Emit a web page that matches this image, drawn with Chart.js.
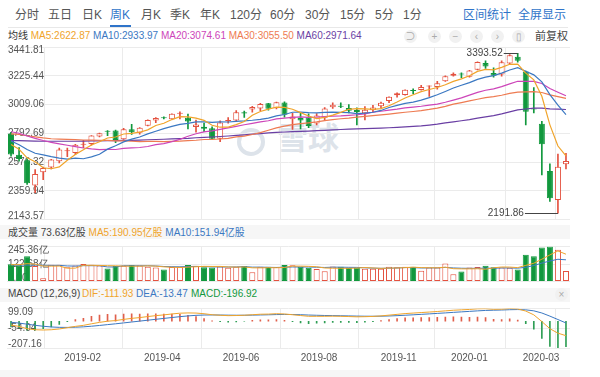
<!DOCTYPE html>
<html>
<head>
<meta charset="utf-8">
<script src="https://cdn.jsdelivr.net/npm/chart.js@4.4.1/dist/chart.umd.min.js"></script>
<style>
  body { margin: 0; background: #fff; font-family: "Liberation Sans", Arial, "Noto Sans CJK SC", sans-serif; }
  #wrap { position: relative; width: 600px; height: 377px; overflow: hidden; }
  .t { position: absolute; white-space: nowrap; line-height: 14px; }
  .tab { top: 8px; font-size: 12px; color: #555; }
  .row { font-size: 10px; }
  canvas { position: absolute; left: 0; }
  .band { position: absolute; left: 0; width: 570px; background: #f6f6f6; }
  .ico { position: absolute; top: 30px; width: 13px; height: 13px; border-radius: 50%; background: #f1f1f1; color: #aaa; font-size: 10px; line-height: 13px; text-align: center; }
</style>
</head>
<body>
<div id="wrap">
  <div class="band" style="top:225px;height:14px"></div>
  <div class="band" style="top:288px;height:14px"></div>
  <div class="band" style="top:370px;height:7px"></div>
  <div style="position:absolute;left:8px;top:27px;width:560px;border-top:1px solid #e8e8e8"></div>

  <span class="t tab" style="left:15px">分时</span>
  <span class="t tab" style="left:48px">五日</span>
  <span class="t tab" style="left:82px">日K</span>
  <span class="t tab" style="left:110px;color:#2f74c9">周K</span>
  <div style="position:absolute;left:110px;top:25px;width:21px;height:2px;background:#2f74c9"></div>
  <span class="t tab" style="left:141px">月K</span>
  <span class="t tab" style="left:170px">季K</span>
  <span class="t tab" style="left:200px">年K</span>
  <span class="t tab" style="left:230px">120分</span>
  <span class="t tab" style="left:270px">60分</span>
  <span class="t tab" style="left:305px">30分</span>
  <span class="t tab" style="left:340px">15分</span>
  <span class="t tab" style="left:375px">5分</span>
  <span class="t tab" style="left:403px">1分</span>
  <span class="t tab" style="left:463px;color:#2f74c9">区间统计</span>
  <span class="t tab" style="left:518px;color:#2f74c9">全屏显示</span>

  <div class="t row" style="left:8px;top:29px;color:#333">均线 <span style="color:#f0a42b">MA5:2622.87</span> <span style="color:#3b78c2">MA10:2933.97</span> <span style="color:#cd45b9">MA20:3074.61</span> <span style="color:#ee7b52">MA30:3055.50</span> <span style="color:#6a3fa4">MA60:2971.64</span></div>
  <span class="ico" style="left:404px">⊃</span>
  <span class="ico" style="left:428px">+</span>
  <span class="ico" style="left:449px">−</span>
  <span class="ico" style="left:470px">‹</span>
  <span class="ico" style="left:491px">›</span>
  <span class="ico" style="left:512px">▯</span>
  <span class="t" style="left:535px;top:29px;color:#444;font-size:11px">前复权</span>

  <div style="position:absolute;left:237px;top:128px;width:20px;height:20px;border:4px solid #dde3ea;border-radius:50%"></div>
  <span class="t" style="left:277px;top:123px;font-size:31px;line-height:32px;font-weight:bold;color:#dde3ea">雪球</span>

  <div class="t row" style="left:8px;top:226px;color:#444">成交量 73.63亿股 <span style="color:#f0a42b">MA5:190.95亿股</span> <span style="color:#3b78c2">MA10:151.94亿股</span></div>

  <span class="t row" style="left:8px;top:287px;color:#444">MACD (12,26,9)</span>
  <span class="t row" style="left:82px;top:287px;color:#f0a42b">DIF:-111.93</span>
  <span class="t row" style="left:136px;top:287px;color:#3b78c2">DEA:-13.47</span>
  <span class="t row" style="left:191px;top:287px;color:#11983d">MACD:-196.92</span>
  <span class="ico" style="left:555px;top:288px">×</span>

  <canvas id="kline" width="600" height="190" style="top:38px"></canvas>
  <canvas id="vol" width="600" height="52" style="top:238px"></canvas>
  <canvas id="macd" width="600" height="72" style="top:300px"></canvas>
</div>
<script>
// S&P 500 weekly, 2018-12-03 .. 2020-03-30
var open = [2790.50,2630.86,2590.75,2400.56,2498.94,2535.61,2582.10,2657.88,2644.97,2706.49,
  2712.40,2769.28,2804.35,2814.37,2747.61,2822.61,2796.01,2848.63,2888.32,2908.32,
  2898.78,2940.58,2908.89,2840.19,2841.94,2830.03,2751.53,2885.83,2889.75,2951.42,
  2971.41,2979.77,3017.80,2981.93,3024.47,2898.07,2907.07,2913.48,2866.70,2909.01,
  2988.43,2996.41,2983.50,2967.07,2944.23,2965.81,2996.48,3035.39,3078.96,3080.33,
  3117.91,3117.44,3143.85,3141.86,3183.63,3226.05,3240.09,3217.55,3271.13,3321.03,
  3247.16,3235.66,3318.28,3369.04,3257.61,2974.28,2863.89,2508.59,2290.71,2558.98];
var high = [2800.18,2685.44,2601.13,2520.27,2538.07,2597.82,2681.83,2681.06,2708.95,2738.98,
  2775.66,2794.20,2813.49,2816.88,2830.73,2860.31,2836.03,2893.42,2910.53,2916.06,
  2939.88,2954.13,2937.32,2892.15,2868.88,2840.51,2885.73,2910.61,2964.15,2959.00,
  2995.84,3017.80,3017.80,3027.98,3029.16,2943.31,2943.31,2939.08,2940.43,2985.86,
  3021.99,3022.05,3007.98,2983.85,2993.28,3002.69,3027.39,3066.95,3097.77,3120.46,
  3127.64,3154.26,3150.60,3182.68,3225.65,3247.93,3247.93,3267.07,3329.88,3337.77,
  3285.91,3337.58,3385.09,3393.52,3259.81,3136.72,2882.59,2562.98,2637.01,2641.39];
var low = [2621.53,2583.23,2408.55,2346.58,2443.96,2524.56,2570.41,2617.27,2631.06,2684.38,
  2704.10,2764.55,2775.13,2722.27,2746.05,2785.02,2785.68,2848.63,2873.33,2900.71,
  2898.78,2900.50,2825.39,2801.43,2805.49,2750.52,2728.81,2868.97,2887.30,2912.66,
  2952.22,2963.44,2966.39,2976.22,2914.11,2822.12,2825.71,2834.97,2856.00,2891.85,
  2979.39,2985.49,2945.53,2855.94,2892.55,2952.93,2981.18,3023.19,3065.34,3078.68,
  3091.41,3117.44,3070.33,3124.95,3183.63,3223.31,3212.03,3214.64,3270.30,3281.53,
  3214.68,3223.13,3315.19,3328.45,2855.84,2945.19,2478.86,2280.52,2191.86,2524.40];
var close = [2633.08,2599.95,2416.62,2485.74,2531.94,2596.26,2670.71,2664.76,2706.53,2707.88,
  2775.60,2792.67,2803.69,2743.07,2822.48,2800.71,2834.40,2892.74,2907.41,2905.03,
  2939.88,2945.64,2881.40,2859.53,2826.06,2752.06,2873.34,2886.98,2950.46,2941.76,
  2990.41,3013.77,2976.61,3025.86,2932.05,2918.65,2888.68,2847.11,2926.46,2978.71,
  3007.39,2992.07,2961.79,2952.01,2970.27,2986.20,3022.55,3066.91,3093.08,3120.46,
  3110.29,3140.98,3145.91,3168.80,3221.22,3240.02,3234.85,3265.35,3329.62,3295.47,
  3225.52,3327.71,3380.16,3337.75,2954.22,2972.37,2711.02,2304.92,2541.47,2584.59];

var ma5 = [2708.6,2672.4,2608.5,2579.1,2533.5,2526.1,2540.3,2589.9,2634.0,2669.2,
  2705.1,2729.5,2757.3,2764.6,2787.5,2792.5,2800.9,2818.7,2851.5,2868.1,
  2895.9,2918.1,2915.9,2906.3,2890.5,2852.9,2838.5,2839.6,2857.8,2880.9,
  2928.6,2956.7,2974.6,2989.7,2987.7,2973.4,2948.4,2922.5,2902.6,2911.9,
  2929.7,2950.3,2973.3,2978.4,2976.7,2972.5,2978.6,2999.6,3027.8,3057.8,
  3082.7,3106.3,3122.1,3137.3,3157.4,3183.4,3202.2,3226.0,3258.2,3273.1,
  3270.2,3288.7,3311.7,3313.3,3245.1,3194.4,3071.1,2856.1,2696.8,2622.87];
var ma10 = [2734.5,2706.0,2671.0,2642.7,2630.0,2617.4,2606.4,2599.2,2606.6,2601.4,
  2615.6,2634.9,2673.6,2699.3,2728.4,2748.8,2765.2,2788.0,2808.1,2827.8,
  2844.2,2859.5,2867.3,2878.9,2879.3,2874.4,2878.3,2877.8,2882.1,2885.7,
  2890.8,2897.6,2907.1,2923.8,2934.3,2951.0,2952.6,2948.6,2946.2,2949.8,
  2951.6,2949.4,2947.9,2940.5,2944.3,2951.1,2964.5,2986.5,3003.1,3017.3,
  3027.6,3042.5,3060.9,3082.6,3107.6,3133.1,3154.3,3174.1,3197.8,3215.3,
  3226.8,3245.5,3268.9,3285.8,3259.1,3232.3,3179.9,3083.9,3005.1,2933.97];
var ma20 = [2804.2,2793.3,2772.2,2754.7,2738.8,2724.9,2713.4,2703.0,2693.1,2682.0,
  2675.1,2670.5,2672.3,2671.0,2679.2,2683.1,2685.8,2693.6,2707.4,2714.6,
  2729.9,2747.2,2770.5,2789.1,2803.9,2811.6,2821.8,2832.9,2845.1,2856.8,
  2867.5,2878.6,2887.2,2901.4,2906.8,2912.7,2915.5,2913.2,2914.2,2917.8,
  2921.2,2923.5,2927.5,2932.2,2939.3,2951.1,2958.6,2967.6,2974.7,2983.6,
  2989.6,2996.0,3004.4,3011.6,3026.0,3042.1,3059.4,3080.3,3100.5,3116.3,
  3127.2,3144.0,3164.9,3184.2,3183.4,3182.7,3167.1,3129.0,3101.5,3074.61];
var ma30 = [2788.3,2784.5,2774.4,2766.0,2757.8,2751.7,2748.9,2747.1,2745.4,2742.2,
  2741.3,2740.5,2739.3,2736.2,2735.3,2732.9,2730.7,2731.3,2731.4,2730.6,
  2731.4,2733.5,2737.3,2740.3,2745.9,2746.9,2750.0,2755.0,2765.6,2771.6,
  2783.5,2797.3,2816.0,2834.0,2847.3,2858.1,2865.4,2871.5,2878.8,2887.8,
  2895.5,2902.2,2907.4,2914.4,2919.3,2925.5,2931.8,2937.6,2943.8,2950.9,
  2956.7,2963.2,2972.0,2982.3,2995.4,3011.7,3023.8,3036.4,3049.0,3060.8,
  3068.7,3079.1,3092.6,3103.0,3103.7,3105.5,3099.6,3081.5,3068.7,3055.50];
var ma60 = [2738,2737,2735,2734,2733,2733,2733,2733,2733,2734,
  2735,2736,2737,2738,2739,2740,2742,2744,2746,2748,
  2750.1,2752.8,2755.0,2759.4,2762.5,2765.0,2768.7,2772.2,2776.9,2781.5,
  2785.9,2790.9,2795.2,2800.0,2802.6,2804.9,2807.2,2809.3,2812.1,2815.0,
  2818.4,2821.4,2823.4,2825.3,2827.3,2829.2,2831.3,2834.5,2837.6,2840.8,
  2844.1,2848.4,2854.7,2861.3,2870.7,2879.3,2886.9,2895.7,2907.3,2916.2,
  2926.1,2938.2,2954.3,2968.5,2975.5,2981.8,2982.5,2976.5,2973.8,2971.64];

// 成交量 (亿股)
var volume = [121,114,176,108,24,117,117,100,112,122,
  117,112,92,108,110,116,112,103,98,85,
  102,104,116,110,100,98,106,96,104,108,
  66,104,103,102,116,114,104,96,88,72,
  106,103,94,97,90,90,90,104,100,104,
  104,76,98,98,126,52,70,98,102,110,
  100,98,96,84,186.65,176,238,245.36,221.76,73.63];
var volMa5 = [118,118,125,122,108.6,107.8,108.4,93.2,94,113.6,
  113.6,112.6,111,110.2,107.8,107.6,107.6,109.8,107.8,102.8,
  100,98.4,101,103.4,106.4,105.6,106,102,100.8,102.4,
  96,95.6,97,96.6,98.2,107.8,107.8,106.4,103.6,94.8,
  93.2,93,92.6,94.4,98,94.8,92.2,94.2,94.8,97.6,
  100.4,97.6,96.4,96,100.4,90,88.8,88.8,89.6,86.4,
  96,101.6,101.2,97.6,112.9,128.1,156.1,186,213.6,190.95];
var volMa10 = [116,115,115,115,114,113,113.2,109.1,108,111.1,
  110.7,110.5,102.1,102.1,110.7,110.6,110.1,110.4,109,105.3,
  103.8,103,105.4,105.6,104.6,102.8,102.2,101.5,102.1,104.4,
  100.8,100.8,99.5,98.7,100.3,101.9,101.7,101.7,100.1,98.6,
  100.5,100.4,99.5,99,96.4,94,92.6,93.4,94.6,97.8,
  97.6,94.9,95.3,95.4,99,95.2,93.2,92.6,92.8,93.4,
  93,95.2,95,93.6,99.7,112.1,128.9,143.6,155.6,151.94];

// MACD (12,26,9)
var dif = [-30,-40,-58,-66,-68,-66,-60,-50,-40,-32,
  -20,-9,0,5,14,22,28,36,43,49,
  56,62,64,63,58,50,46,43,44,46,
  50,54,55,58,56,50,44,38,38,38,
  39,38,36,34,35,37,41,47,53,59,
  63,67,71,75,80,85,88,91,96,97,
  92,93,98,95,78.6,49.2,-2.7,-57.95,-92.43,-111.93];
var dea = [-8,-14.4,-23.1,-31.7,-39,-44.4,-47.5,-48,-46.4,-43.5,
  -38.8,-32.8,-26.3,-20,-13.2,-6.2,0.7,7.8,14.8,21.7,
  28.5,35.2,41,45.4,47.9,48.3,47.9,46.9,46.3,46.3,
  47,48.4,49.7,51.4,52.3,51.8,50.3,47.8,45.9,44.3,
  43.3,42.2,41,39.6,38.7,38.4,38.9,40.5,43,46.2,
  49.6,53.1,56.7,60.4,64.3,68.4,72.3,76,80,83.4,
  85.1,86.7,89,90.2,87.9,80.2,63.6,39.3,12.9,-13.47];
var macdHist = [-44,-51.2,-69.8,-68.6,-58,-43.2,-25,-4,12.8,23,
  37.6,47.6,52.6,50,54.4,56.4,54.6,56.4,56.4,54.6,
  55,53.6,46,35.2,20.2,3.4,-3.8,-7.8,-4.6,-0.6,
  6,11.2,10.6,13.2,7.4,-3.6,-12.6,-19.6,-15.8,-12.6,
  -8.6,-8.4,-10,-11.2,-7.4,-2.8,4.2,13,20,25.6,
  26.8,27.8,28.6,29.2,31.4,33.2,31.4,30,32,27.2,
  13.8,12.6,18,9.6,-18.6,-62,-132.6,-194.5,-207.16,-196.92];

var priceTicks = [3441.81, 3225.44, 3009.06, 2792.69, 2576.32, 2359.94, 2143.57];
var volTicks = [245.36, 122.68, 0];
var macdTicks = [99.09, -54.04, -207.16];
var xTickPos = [8.9, 18.8, 28.6, 38.3, 48.2, 57, 65.9];
var xTickLabels = ['2019-02', '2019-04', '2019-06', '2019-08', '2019-11', '2020-01', '2020-03'];

var RED = '#e4513f', GREEN = '#11983d';
var n = close.length;
var isUp = close.map(function (c, i) { return c >= open[i]; });

function pts(arr) {
  return arr.map(function (v, i) { return { x: i, y: v }; });
}
function ranges(a, b) {
  return a.map(function (v, i) { return { x: i, y: [v, b[i]] }; });
}
function line(arr, color, width) {
  return { type: 'line', data: pts(arr), borderColor: color, borderWidth: width || 1.2,
    pointRadius: 0, tension: 0, order: 0 };
}

var tickFont = { family: 'Liberation Sans', size: 10, lineHeight: 0.74 };

function xAxis(showLabels) {
  return {
    type: 'linear', min: -0.5, max: n - 0.5, offset: false,
    afterBuildTicks: function (s) {
      s.ticks = [-0.5].concat(xTickPos, [n - 0.5]).map(function (v) { return { value: v }; });
    },
    afterFit: function (s) { s.height = showLabels ? 24 : 0; },
    border: { display: false },
    grid: { color: '#ebebeb', drawTicks: false },
    ticks: {
      display: showLabels, autoSkip: false, maxRotation: 0, padding: 4,
      color: '#555', font: { family: 'Liberation Sans', size: 10 },
      callback: function (v) { var k = xTickPos.indexOf(v); return k < 0 ? '' : xTickLabels[k]; }
    }
  };
}

function yAxis(tickVals, fmt) {
  var hi = Math.max.apply(null, tickVals), lo = Math.min.apply(null, tickVals);
  return {
    position: 'left', min: lo, max: hi,
    afterBuildTicks: function (s) { s.ticks = tickVals.map(function (v) { return { value: v }; }); },
    afterFit: function (s) { s.width = 0; },
    border: { display: false },
    grid: { color: '#ebebeb', drawTicks: false },
    ticks: {
      mirror: true, autoSkip: false, padding: 1, color: '#555', font: tickFont,
      callback: function (v) {
        var t = fmt(v);
        if (v === hi) return ['', t];
        if (v === lo) return [t, ''];
        return t;
      }
    }
  };
}

var baseOpts = {
  responsive: false, animation: false, events: [],
  plugins: { legend: { display: false }, tooltip: { enabled: false } }
};

// labels for the highest high and the lowest low
var hiIdx = high.indexOf(Math.max.apply(null, high));
var loIdx = low.indexOf(Math.min.apply(null, low));
var extremes = {
  id: 'extremes',
  afterDatasetsDraw: function (chart) {
    var ctx = chart.ctx, x = chart.scales.x, y = chart.scales.y;
    ctx.save();
    ctx.font = '10px "Liberation Sans"';
    ctx.fillStyle = '#444';
    ctx.strokeStyle = '#444';
    ctx.lineWidth = 1;
    [[hiIdx, high[hiIdx], 14], [loIdx, low[loIdx], 33]].forEach(function (m) {
      var px = x.getPixelForValue(m[0]), py = Math.round(y.getPixelForValue(m[1])) + 0.5;
      ctx.beginPath();
      ctx.moveTo(px, py);
      ctx.lineTo(px - m[2], py);
      ctx.stroke();
      ctx.textAlign = 'right';
      ctx.textBaseline = 'middle';
      ctx.fillText(m[1].toFixed(2), px - m[2] - 1, py);
    });
    ctx.restore();
  }
};

new Chart(document.getElementById('kline'), {
  type: 'bar',
  data: {
    datasets: [
      line(ma5, '#f0a42b'), line(ma10, '#3b78c2'), line(ma20, '#cd45b9'),
      line(ma30, '#ee7b52'), line(ma60, '#6a3fa4'),
      {
        data: ranges(open, close), grouped: false, order: 1,
        barPercentage: 0.75, categoryPercentage: 1, minBarLength: 1,
        borderWidth: 1, borderSkipped: false,
        backgroundColor: function (c) { return isUp[c.dataIndex] ? '#fff' : GREEN; },
        borderColor: function (c) { return isUp[c.dataIndex] ? RED : GREEN; }
      },
      {
        data: ranges(low, high), grouped: false, order: 2, barThickness: 1,
        backgroundColor: function (c) { return isUp[c.dataIndex] ? RED : GREEN; }
      }
    ]
  },
  options: Object.assign({}, baseOpts, {
    layout: { padding: { left: 7, right: 30, top: 9, bottom: 7 } },
    scales: {
      x: xAxis(false),
      y: yAxis(priceTicks, function (v) { return v.toFixed(2); })
    }
  }),
  plugins: [extremes]
});

new Chart(document.getElementById('vol'), {
  type: 'bar',
  data: {
    datasets: [
      line(volMa5, '#f0a42b', 1), line(volMa10, '#3b78c2', 1),
      {
        data: pts(volume), grouped: false, order: 1,
        barPercentage: 0.75, categoryPercentage: 1,
        borderWidth: 1, borderSkipped: false,
        backgroundColor: function (c) { return isUp[c.dataIndex] ? '#fff' : GREEN; },
        borderColor: function (c) { return isUp[c.dataIndex] ? RED : GREEN; }
      }
    ]
  },
  options: Object.assign({}, baseOpts, {
    layout: { padding: { left: 7, right: 30, top: 3, bottom: 3 } },
    scales: {
      x: xAxis(false),
      y: yAxis(volTicks, function (v) { return v === 0 ? '0.00' : v.toFixed(2) + '亿'; })
    }
  })
});

new Chart(document.getElementById('macd'), {
  type: 'bar',
  data: {
    datasets: [
      line(dif, '#f0a42b', 1), line(dea, '#3b78c2', 1),
      {
        data: pts(macdHist), grouped: false, order: 1, barThickness: 1,
        backgroundColor: function (c) { return macdHist[c.dataIndex] >= 0 ? '#e0604c' : '#2f9e55'; }
      }
    ]
  },
  options: Object.assign({}, baseOpts, {
    layout: { padding: { left: 7, right: 30, top: 4, bottom: 0 } },
    scales: {
      x: xAxis(true),
      y: yAxis(macdTicks, function (v) { return v.toFixed(2); })
    }
  })
});
</script>
</body>
</html>
